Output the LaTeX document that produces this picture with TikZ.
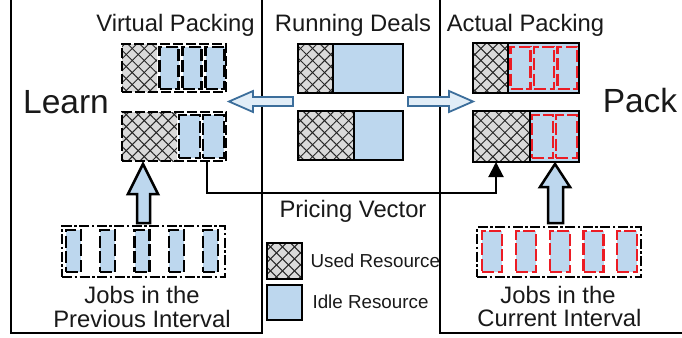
\documentclass[tikz,border=0pt]{standalone}
\usepackage{fontspec}
\setmainfont{Liberation Sans}
\usetikzlibrary{patterns.meta,arrows.meta}
\definecolor{idle}{RGB}{189,215,238}
\definecolor{usedgray}{RGB}{218,218,218}
\definecolor{arrblue}{RGB}{60,110,155}
\definecolor{jred}{RGB}{236,28,36}
\begin{document}
\begin{tikzpicture}[x=1pt,y=-1pt,
 cell/.style={rectangle, anchor=north west, inner sep=0pt, outer sep=0pt},
 usedcell/.style={cell, fill=usedgray,
   postaction={pattern={Lines[angle=45,distance=8.5pt,line width=1pt]},pattern color=black!85},
   postaction={pattern={Lines[angle=-45,distance=8.5pt,line width=1pt]},pattern color=black!85}},
 idlecell/.style={cell, fill=idle},
 frame/.style={cell, draw=black, line width=2.5pt},
 dframe/.style={frame, line width=2.8pt, dash pattern=on 10pt off 3pt},
 col/.style={cell, fill=idle, draw=black, line width=2.6pt, dash pattern=on 12pt off 3.5pt},
 rcol/.style={col, draw=jred, line width=2.8pt},
 jobframe/.style={cell, draw=black, line width=2.5pt, dash pattern=on 10pt off 2.5pt on 2.5pt off 2.5pt},
 divline/.style={line width=2.5pt},
 panel/.style={line width=2pt},
 hollow/.style={draw=arrblue, fill=idle!45, line width=1.8pt, line join=miter},
 uparrow/.style={draw=black, fill=idle, line width=2.5pt, line join=miter},
 pline/.style={line width=2pt, -{Triangle[length=15pt,width=15pt]}},
 lbl/.style={font=\fontsize{23.8}{28}\selectfont, anchor=base, text=black!90},
 big/.style={font=\fontsize{33.5}{38}\selectfont, anchor=base, text=black!90},
 leg/.style={font=\fontsize{18.8}{22}\selectfont, anchor=base west, text=black!90}
]
\useasboundingbox (0,0) rectangle (682,337);
\clip (0,0) rectangle (682,337);

% panels
\draw[panel] (11,-5) -- (11,333) -- (262,333) -- (262,-5);
\draw[panel] (440,-5) -- (440,333) -- (690,333);

% titles
\node[lbl] (tv) at (175.5,32) {Virtual Packing};
\node[lbl] (tr) at (353,32) {Running Deals};
\node[lbl] (ta) at (525.5,32) {Actual Packing};
\node[big] (learn) at (66,113) {Learn};
\node[big] (pack) at (640,112) {Pack};

% virtual top
\node[usedcell, minimum width=35pt, minimum height=48pt] (vtu) at (122,44) {};
\node[col, minimum width=19pt, minimum height=42pt] (vtc1) at (159.5,47) {};
\node[col, minimum width=19pt, minimum height=42pt] (vtc2) at (182.5,47) {};
\node[col, minimum width=19pt, minimum height=42pt] (vtc3) at (205.5,47) {};
\node[dframe, minimum width=104pt, minimum height=48pt] (vt) at (122,44) {};

% virtual bottom
\node[usedcell, minimum width=55pt, minimum height=49pt] (vbu) at (122,112) {};
\node[col, minimum width=21pt, minimum height=43pt] (vbc1) at (179,115) {};
\node[col, minimum width=21pt, minimum height=43pt] (vbc2) at (203,115) {};
\node[dframe, minimum width=104pt, minimum height=49pt] (vb) at (122,112) {};

% running top
\node[usedcell, minimum width=35pt, minimum height=49pt] (rtu) at (298,44) {};
\node[idlecell, minimum width=70pt, minimum height=49pt] (rti) at (333,44) {};
\node[frame, minimum width=105pt, minimum height=49pt] (rt) at (298,44) {};
\draw[divline] (rtu.north east) -- (rtu.south east);

% running bottom
\node[usedcell, minimum width=56pt, minimum height=49pt] (rbu) at (298,111) {};
\node[idlecell, minimum width=49pt, minimum height=49pt] (rbi) at (354,111) {};
\node[frame, minimum width=105pt, minimum height=49pt] (rb) at (298,111) {};
\draw[divline] (rbu.north east) -- (rbu.south east);

% actual top
\node[usedcell, minimum width=35pt, minimum height=50pt] (atu) at (473,43) {};
\node[idlecell, minimum width=71pt, minimum height=50pt] (ati) at (508,43) {};
\node[rcol, minimum width=20pt, minimum height=42pt] (atc1) at (510.5,47) {};
\node[rcol, minimum width=20pt, minimum height=42pt] (atc2) at (534,47) {};
\node[rcol, minimum width=20pt, minimum height=42pt] (atc3) at (557.5,47) {};
\node[frame, minimum width=106pt, minimum height=50pt] (at) at (473,43) {};
\draw[divline] (atu.north east) -- (atu.south east);

% actual bottom
\node[usedcell, minimum width=57pt, minimum height=51pt] (abu) at (473,111) {};
\node[idlecell, minimum width=49pt, minimum height=51pt] (abi) at (530,111) {};
\node[rcol, minimum width=21pt, minimum height=43pt] (abc1) at (532,115) {};
\node[rcol, minimum width=21pt, minimum height=43pt] (abc2) at (556,115) {};
\node[frame, minimum width=106pt, minimum height=51pt] (ab) at (473,111) {};
\draw[divline] (abu.north east) -- (abu.south east);

% hollow arrows
\draw[hollow] (293,97) -- (253,97) -- (253,91) -- (229,101.5) -- (253,112) -- (253,106) -- (293,106) -- cycle;
\draw[hollow] (408,97) -- (449,97) -- (449,91) -- (473,101.5) -- (449,112) -- (449,106) -- (408,106) -- cycle;

% jobs previous
\node[jobframe, minimum width=163pt, minimum height=51pt] (jp) at (62,226) {};
\node[col, minimum width=15pt, minimum height=42pt] (jp1) at (66,230) {};
\node[col, minimum width=15pt, minimum height=42pt] (jp2) at (100,230) {};
\node[col, minimum width=15pt, minimum height=42pt] (jp3) at (134.5,230) {};
\node[col, minimum width=15pt, minimum height=42pt] (jp4) at (169,230) {};
\node[col, minimum width=15pt, minimum height=42pt] (jp5) at (203,230) {};
\node[lbl] (jpt1) at (142,303) {Jobs in the};
\node[lbl] (jpt2) at (142,327) {Previous Interval};

% jobs current
\node[jobframe, minimum width=164pt, minimum height=50pt] (jc) at (477,227) {};
\node[rcol, minimum width=20pt, minimum height=41pt] (jc1) at (482,231) {};
\node[rcol, minimum width=20pt, minimum height=41pt] (jc2) at (516,231) {};
\node[rcol, minimum width=20pt, minimum height=41pt] (jc3) at (550,231) {};
\node[rcol, minimum width=20pt, minimum height=41pt] (jc4) at (583.5,231) {};
\node[rcol, minimum width=20pt, minimum height=41pt] (jc5) at (617,231) {};
\node[lbl] (jct1) at (558,303) {Jobs in the};
\node[lbl] (jct2) at (559.5,326) {Current Interval};

% up arrows
\draw[uparrow] (137,223) -- (137,194) -- (128,194) -- (143,164) -- (158,194) -- (150,194) -- (150,223) -- cycle;
\draw[uparrow] (548,223) -- (548,187) -- (540,187) -- (555,164) -- (570,187) -- (563,187) -- (563,223) -- cycle;

% pricing vector
\draw[pline] ([xshift=85pt]vb.south west) -- ++(0,32) -| ([xshift=23pt]ab.south west);
\node[lbl] (pv) at (353,217) {Pricing Vector};

% legend
\node[usedcell, minimum width=35pt, minimum height=36pt] (lu) at (267,243) {};
\node[frame, minimum width=35pt, minimum height=36pt] (luf) at (267,243) {};
\node[idlecell, minimum width=35pt, minimum height=35pt] (li) at (267,285) {};
\node[frame, minimum width=35pt, minimum height=35pt] (lif) at (267,285) {};
\node[leg] (lut) at (307,267) {Used Resource};
\node[leg] (lit) at (309,308) {Idle Resource};
\end{tikzpicture}
\end{document}
